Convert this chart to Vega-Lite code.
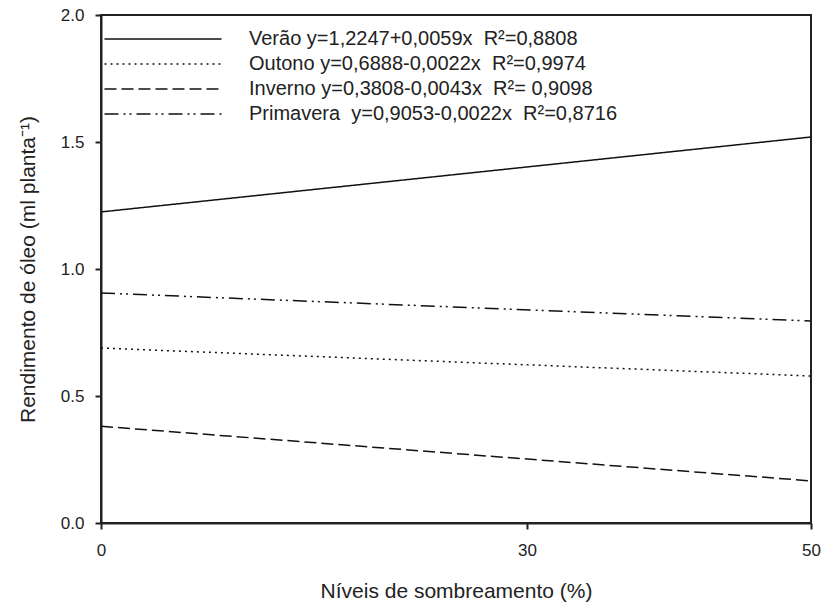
{
  "$schema": "https://vega.github.io/schema/vega-lite/v6.json",
  "autosize": {"type": "none"},
  "padding": {"left": 101, "top": 15, "right": 10, "bottom": 83},
  "width": 710,
  "height": 508,
  "background": "white",
  "config": {
    "view": {"stroke": "#222", "strokeWidth": 2},
    "font": "Liberation Sans",
    "axis": {
      "domainColor": "#222", "domainWidth": 2, "tickColor": "#222", "tickWidth": 2, "tickSize": 6,
      "labelFont": "Liberation Sans", "labelFontSize": 17, "labelColor": "#222",
      "titleFont": "Liberation Sans", "titleFontSize": 21, "titleFontWeight": "normal", "titleColor": "#222",
      "grid": false
    }
  },
  "data": {"values": [
    {"serie": "Verão", "x": 0, "y": 1.2247},
    {"serie": "Verão", "x": 50, "y": 1.5197},
    {"serie": "Outono", "x": 0, "y": 0.6888},
    {"serie": "Outono", "x": 50, "y": 0.5788},
    {"serie": "Inverno", "x": 0, "y": 0.3808},
    {"serie": "Inverno", "x": 50, "y": 0.1658},
    {"serie": "Primavera", "x": 0, "y": 0.9053},
    {"serie": "Primavera", "x": 50, "y": 0.7953}
  ]},
  "mark": {"type": "line", "color": "#111", "strokeWidth": 1.5},
  "encoding": {
    "x": {
      "field": "x", "type": "quantitative",
      "scale": {"domain": [0, 50], "nice": false, "zero": false},
      "axis": {"values": [0, 30, 50], "title": "Níveis de sombreamento (%)", "labelPadding": 13, "titlePadding": 22, "labelFlush": false}
    },
    "y": {
      "field": "y", "type": "quantitative",
      "scale": {"domain": [0, 2], "nice": false},
      "axis": {"values": [0, 0.5, 1, 1.5, 2], "format": ".1f", "title": "Rendimento de óleo (ml planta⁻¹)", "labelPadding": 11, "titlePadding": 22, "labelFlush": false}
    },
    "strokeDash": {
      "field": "serie", "type": "nominal",
      "scale": {
        "domain": ["Verão", "Outono", "Inverno", "Primavera"],
        "range": [[1, 0], [2, 4], [12, 5], [14, 5, 2, 4, 2, 5]]
      },
      "legend": {
        "orient": "none", "legendX": 52, "legendY": 14, "title": null, "padding": 0,
        "symbolType": "M-8,0H8", "symbolSize": 214, "symbolStrokeWidth": 1.5, "symbolStrokeColor": "#111",
        "labelFont": "Liberation Sans", "labelFontSize": 20, "labelColor": "#222", "labelOffset": 76,
        "rowPadding": 5, "labelLimit": 600,
        "labelExpr": "datum.label == 'Verão' ? 'Verão y=1,2247+0,0059x\u00a0 R²=0,8808' : datum.label == 'Outono' ? 'Outono y=0,6888-0,0022x\u00a0 R²=0,9974' : datum.label == 'Inverno' ? 'Inverno y=0,3808-0,0043x\u00a0 R²= 0,9098' : 'Primavera\u00a0 y=0,9053-0,0022x\u00a0 R²=0,8716'"
      }
    }
  }
}
